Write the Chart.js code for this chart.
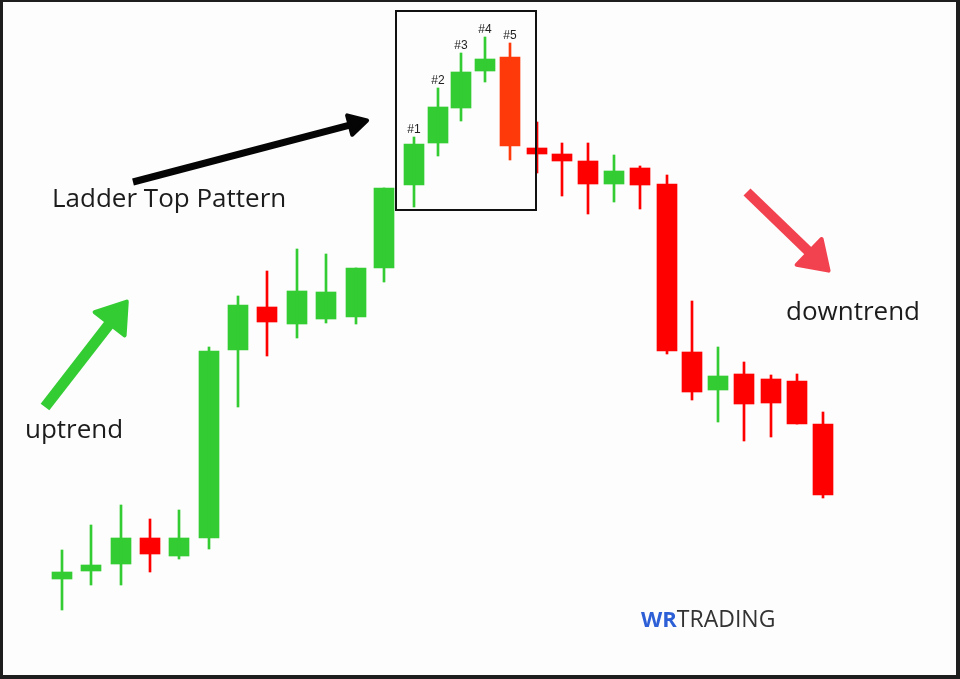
<!DOCTYPE html>
<html>
<head>
<meta charset="utf-8">
<title>Ladder Top Pattern</title>
<script src="https://cdn.jsdelivr.net/npm/chart.js@4.4.1/dist/chart.umd.min.js"></script>
<style>
  html, body { margin: 0; padding: 0; background: #fdfdfd; }
  #wrap { position: relative; width: 960px; height: 679px; }
</style>
</head>
<body>
<div id="wrap"><canvas id="grafico"></canvas></div>
<script>
// ---------- Candle data ----------
// session position on the time axis and OHLC prices (chart units)
const sessions = [6.2, 9.1, 12.1, 15.0, 17.9, 20.9, 23.8, 26.7, 29.7, 32.6, 35.6, 38.4,
    41.4, 43.8, 46.1, 48.5, 51.0,
    53.7, 56.2, 58.8, 61.4, 64.0, 66.7, 69.2, 71.8, 74.4, 77.1, 79.7, 82.3];
const opens  = [10.0, 10.8, 11.5, 14.1, 12.3, 14.1, 32.9, 37.2, 35.5, 36.0, 36.2, 41.1,
    49.4, 53.6, 57.1, 60.8, 62.2,
    53.1, 52.5, 51.8, 49.5, 51.1, 49.5, 32.7, 28.9, 30.5, 30.0, 29.8, 25.5];
const closes = [10.7, 11.4, 14.1, 12.5, 14.1, 32.8, 37.4, 35.7, 38.8, 38.7, 41.1, 49.1,
    53.5, 57.2, 60.7, 62.0, 53.3,
    52.5, 51.8, 49.5, 50.8, 49.4, 32.8, 28.7, 30.3, 27.5, 27.6, 25.5, 18.4];
const highs  = [12.9, 15.4, 17.4, 16.0, 16.9, 33.2, 38.3, 40.8, 43.0, 42.5, 41.1, 49.1,
    54.2, 59.1, 62.6, 64.2, 63.6,
    55.7, 53.6, 53.6, 52.4, 51.3, 50.4, 37.8, 33.2, 31.7, 30.4, 30.5, 26.7];
const lows   = [6.9, 9.4, 9.4, 10.7, 12.0, 13.0, 27.2, 32.3, 34.1, 35.6, 35.5, 39.7,
    47.2, 52.3, 55.8, 59.7, 51.9,
    50.6, 48.3, 46.5, 47.7, 47.0, 32.5, 27.9, 25.7, 23.8, 24.2, 25.5, 18.1];

// the five candles of the ladder top
const patternLabels = ['#1', '#2', '#3', '#4', '#5'];
const patternStart = 12;

// colours
const VERDE = '#33cc33';
const VERMELHO = '#ff0000';
const LARANJA = '#ff3a0a';

const cores = opens.map(function (o, i) {
    if (i === patternStart + 4) return LARANJA; // the big #5 candle is more orange
    return closes[i] >= o ? VERDE : VERMELHO;
});

const pavios = sessions.map(function (x, i) { return { x: x, y: [lows[i], highs[i]] }; });
const corpos = sessions.map(function (x, i) {
    return { x: x, y: [Math.min(opens[i], closes[i]), Math.max(opens[i], closes[i])] };
});

// draw an arrow with a rounded triangular head
function seta(ctx, x1, y1, x2, y2, w, hl, hw, cor) {
    const ang = Math.atan2(y2 - y1, x2 - x1);
    const len = Math.hypot(x2 - x1, y2 - y1);
    ctx.save();
    ctx.translate(x2, y2);
    ctx.rotate(ang);
    ctx.fillStyle = cor;
    ctx.strokeStyle = cor;
    ctx.fillRect(-len, -w / 2, len - hl + 3, w);
    ctx.lineJoin = 'round';
    ctx.lineWidth = 4;
    ctx.beginPath();
    ctx.moveTo(-2, 0);
    ctx.lineTo(-hl + 2, -hw / 2 + 2);
    ctx.lineTo(-hl + 2, hw / 2 - 2);
    ctx.closePath();
    ctx.fill();
    ctx.stroke();
    ctx.restore();
}

// ---------- Annotations (texts, arrows, box, logo) ----------
const anotacoes = {
    id: 'anotacoes',
    beforeDraw: function (chart) {
        const ctx = chart.ctx;
        ctx.save();
        ctx.fillStyle = '#fdfdfd';
        ctx.fillRect(0, 0, chart.width, chart.height);
        ctx.restore();
    },
    afterDraw: function (chart) {
        const ctx = chart.ctx;
        const sx = chart.scales.x, sy = chart.scales.y;
        const X = function (v) { return sx.getPixelForValue(v); };
        const Y = function (v) { return sy.getPixelForValue(v); };

        ctx.save();

        // box around the pattern
        ctx.strokeStyle = '#111';
        ctx.lineWidth = 2;
        ctx.strokeRect(X(39.6), Y(66.8), X(53.6) - X(39.6), Y(46.9) - Y(66.8));

        // #1..#5 labels above the highs
        ctx.fillStyle = '#222';
        ctx.font = '12px "Liberation Sans", Arial, sans-serif';
        ctx.textAlign = 'center';
        ctx.textBaseline = 'alphabetic';
        patternLabels.forEach(function (lbl, k) {
            const i = patternStart + k;
            ctx.fillText(lbl, X(sessions[i]), Y(highs[i]) - 4);
        });

        // arrows
        seta(ctx, X(13.3), Y(49.7), X(36.9), Y(55.9), 7, 22, 24, '#050505');
        seta(ctx, X(4.5), Y(27.2), X(12.8), Y(37.9), 11, 32, 42, VERDE);
        seta(ctx, X(74.7), Y(48.7), X(83.0), Y(40.7), 10, 31, 40, '#f2424f');

        // texts
        ctx.fillStyle = '#1c1c1c';
        ctx.font = '26px "Open Sans", sans-serif';
        ctx.textAlign = 'left';
        ctx.fillText('Ladder Top Pattern', X(5.2), Y(47.2));
        ctx.fillText('uptrend', X(2.5), Y(24.1));
        ctx.fillText('downtrend', X(78.6), Y(35.9));

        // logo
        ctx.font = 'bold 22px "Open Sans", sans-serif';
        ctx.fillStyle = '#2d5fd6';
        ctx.fillText('WR', X(64.1), Y(5.2));
        const wWR = ctx.measureText('WR').width;
        ctx.font = '500 23px "Open Sans", sans-serif';
        ctx.fillStyle = '#333';
        ctx.fillText('TRADING', X(64.1) + wWR, Y(5.2));

        // dark frame
        ctx.fillStyle = '#1e1e1e';
        ctx.fillRect(0, 0, chart.width, 2);
        ctx.fillRect(0, 0, 3, chart.height);
        ctx.fillRect(chart.width - 4, 0, 4, chart.height);
        ctx.fillRect(0, chart.height - 4, chart.width, 4);

        ctx.restore();
    }
};

// ---------- Chart ----------
const ctx = document.getElementById('grafico').getContext('2d');
new Chart(ctx, {
    type: 'bar',
    data: {
        datasets: [
            {
                label: 'Wicks',
                data: pavios,
                backgroundColor: cores,
                barThickness: 2,
                grouped: false,
                borderWidth: 0
            },
            {
                label: 'Bodies',
                data: corpos,
                backgroundColor: cores,
                barThickness: 20,
                grouped: false,
                borderWidth: 0
            }
        ]
    },
    options: {
        responsive: true,
        maintainAspectRatio: false,
        animation: false,
        layout: { padding: 0 },
        plugins: {
            legend: { display: false },
            tooltip: { enabled: false }
        },
        scales: {
            x: { type: 'linear', min: 0, max: 96, offset: false, display: false },
            y: { min: 0, max: 67.9, display: false }
        }
    },
    plugins: [anotacoes]
});
</script>
</body>
</html>
